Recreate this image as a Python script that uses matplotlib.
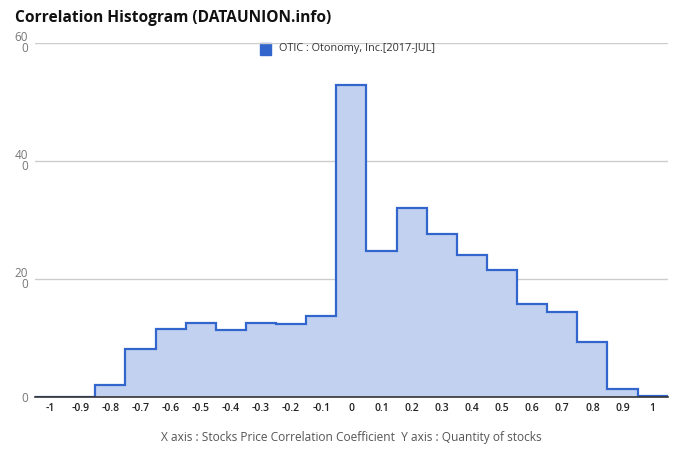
import matplotlib
matplotlib.use('Agg')
import matplotlib.pyplot as plt
import numpy as np

plt.rcParams['font.family'] = ['Open Sans', 'DejaVu Sans']

# bin centers and quantities
centers = [-1.0, -0.9, -0.8, -0.7, -0.6, -0.5, -0.4, -0.3, -0.2, -0.1, 0.0,
           0.1, 0.2, 0.3, 0.4, 0.5, 0.6, 0.7, 0.8, 0.9, 1.0]
counts = [0, 0, 2.1, 8.2, 11.6, 12.5, 11.4, 12.5, 12.4, 13.8, 52.8,
          24.7, 32.1, 27.6, 24.1, 21.6, 15.8, 14.4, 9.3, 1.4, 0.2]
tick_labels = ['-1', '-0.9', '-0.8', '-0.7', '-0.6', '-0.5', '-0.4', '-0.3', '-0.2', '-0.1', '0',
               '0.1', '0.2', '0.3', '0.4', '0.5', '0.6', '0.7', '0.8', '0.9', '1']
y_ticks = [0, 20, 40, 60]
y_labels = ['0', '20\n0', '40\n0', '60\n0']
legend_label = 'OTIC : Otonomy, Inc.[2017-JUL]'

line_color = '#3366cc'
fill_color = '#c2d1f0'

fig = plt.figure(figsize=(6.8, 4.62), dpi=100)
ax = fig.add_axes([0.0515, 0.1407, 0.9305, 0.7663])

c = np.array(centers)
edges = np.concatenate([c - 0.05, [c[-1] + 0.05]])
ax.stairs(counts, edges, fill=True, color=fill_color, zorder=2)
ax.stairs(counts, edges, color=line_color, linewidth=1.6, zorder=3)

ax.set_xlim(-1.05, 1.05)
ax.set_ylim(0, 60)
ax.set_xticks(centers)
ax.set_xticklabels(tick_labels, fontsize=7.5, color='#222222', fontweight='semibold')
ax.set_yticks(y_ticks)
ylabs = ax.set_yticklabels(y_labels, fontsize=8.5, color='#777777', linespacing=0.8)
for t in ylabs:
    t.set_multialignment('right')
ax.tick_params(axis='both', length=0)
ax.tick_params(axis='x', pad=4)
ax.tick_params(axis='y', pad=5)

ax.grid(axis='y', color='#cccccc', linewidth=1, zorder=0)
for s in ['top', 'right', 'left']:
    ax.spines[s].set_visible(False)
ax.spines['bottom'].set_color('#333333')
ax.spines['bottom'].set_linewidth(1.2)
ax.spines['bottom'].set_zorder(4)

fig.text(0.022, 0.962, 'Correlation Histogram (DATAUNION.info)', fontsize=11.2,
         fontweight='bold', color='#111111', va='center', ha='left')
fig.text(0.517, 0.053, 'X axis : Stocks Price Correlation Coefficient  Y axis : Quantity of stocks',
         fontsize=8.6, color='#555555', ha='center', va='center')

ax.add_patch(plt.Rectangle((0.382, 0.882), 0.0165, 0.024, transform=fig.transFigure,
                           color=line_color, clip_on=False))
fig.text(0.41, 0.894, legend_label, fontsize=7.8, color='#333333', ha='left', va='center')

fig.savefig('out.png', dpi=100)
